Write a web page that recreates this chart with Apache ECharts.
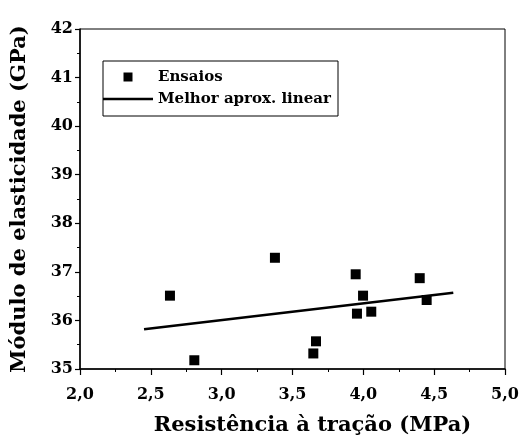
<!DOCTYPE html>
<html><head><meta charset="utf-8">
<script src="https://cdn.jsdelivr.net/npm/echarts@6/dist/echarts.min.js"></script>
<style>html,body{margin:0;padding:0;background:#fff}#c{width:522px;height:441px}</style>
</head><body><div id="c"></div>
<script>
var tensile = [2.635, 2.807, 3.376, 3.946, 3.998, 3.955, 4.056, 3.666, 3.647, 4.398, 4.447];
var modulus = [36.51, 35.18, 37.29, 36.95, 36.51, 36.14, 36.18, 35.57, 35.32, 36.87, 36.42];
var fitX = [2.452, 4.635];
var fitY = [35.82, 36.57];
var seriesNames = ['Ensaios', 'Melhor aprox. linear'];
var xTitle = 'Resistência à tração (MPa)';
var yTitle = 'Módulo de elasticidade (GPa)';

var F = 'DejaVu Serif';
var chart = echarts.init(document.getElementById('c'));
chart.setOption({
  backgroundColor: '#fff',
  animation: false,
  grid: {left: 80, right: 17, top: 29, bottom: 65, show: true, borderColor: '#000', borderWidth: 1},
  graphic: [{type: 'rect', shape: {x: 103, y: 61, width: 235, height: 55}, style: {fill: 'none', stroke: '#000', lineWidth: 1}, z: 10}],
  legend: {
    orient: 'vertical', left: 103, top: 69, padding: 0,
    itemWidth: 50, itemHeight: 9, itemGap: 6, symbolKeepAspect: true,
    textStyle: {fontFamily: F, fontWeight: 'bold', fontSize: 15, color: '#000', lineHeight: 16},
    data: [
      {name: seriesNames[0], icon: 'path://M0,0L1,0L1,1L0,1Z', itemStyle: {color: '#000', opacity: 1}},
      {name: seriesNames[1], icon: 'path://M0,0L50,0L50,2.5L0,2.5Z', itemStyle: {color: '#000', opacity: 1}}
    ]
  },
  xAxis: {
    type: 'value', min: 2, max: 5, interval: 0.5,
    name: xTitle, nameLocation: 'middle', nameGap: 46,
    nameTextStyle: {fontFamily: F, fontWeight: 'bold', fontSize: 21, color: '#000', padding: [0, 0, 0, 40]},
    axisLine: {lineStyle: {color: '#000', width: 1.5}},
    axisTick: {inside: false, length: 6, lineStyle: {color: '#000', width: 1.2}},
    minorTick: {show: true, splitNumber: 2, length: 3, lineStyle: {color: '#000', width: 1}},
    splitLine: {show: false},
    axisLabel: {margin: 18, fontFamily: F, fontWeight: 'bold', fontSize: 16, color: '#000',
      formatter: function (v) { return v.toFixed(1).replace('.', ','); }}
  },
  yAxis: {
    type: 'value', min: 35, max: 42, interval: 1,
    name: yTitle, nameLocation: 'middle', nameGap: 50,
    nameTextStyle: {fontFamily: F, fontWeight: 'bold', fontSize: 21, color: '#000'},
    axisLine: {show: true, lineStyle: {color: '#000', width: 1.5}},
    axisTick: {show: true, inside: false, length: 5, lineStyle: {color: '#000', width: 1.2}},
    minorTick: {show: true, splitNumber: 2, length: 3, lineStyle: {color: '#000', width: 1}},
    splitLine: {show: false},
    axisLabel: {margin: 7, fontFamily: F, fontWeight: 'bold', fontSize: 16, color: '#000'}
  },
  series: [
    {name: seriesNames[0], type: 'scatter', symbol: 'rect', symbolSize: 10,
      itemStyle: {color: '#000', opacity: 1},
      data: tensile.map(function (x, i) { return [x, modulus[i]]; })},
    {name: seriesNames[1], type: 'line', showSymbol: false, symbol: 'none',
      lineStyle: {color: '#000', width: 2.5}, itemStyle: {color: '#000'},
      data: fitX.map(function (x, i) { return [x, fitY[i]]; })}
  ]
});
</script></body></html>
